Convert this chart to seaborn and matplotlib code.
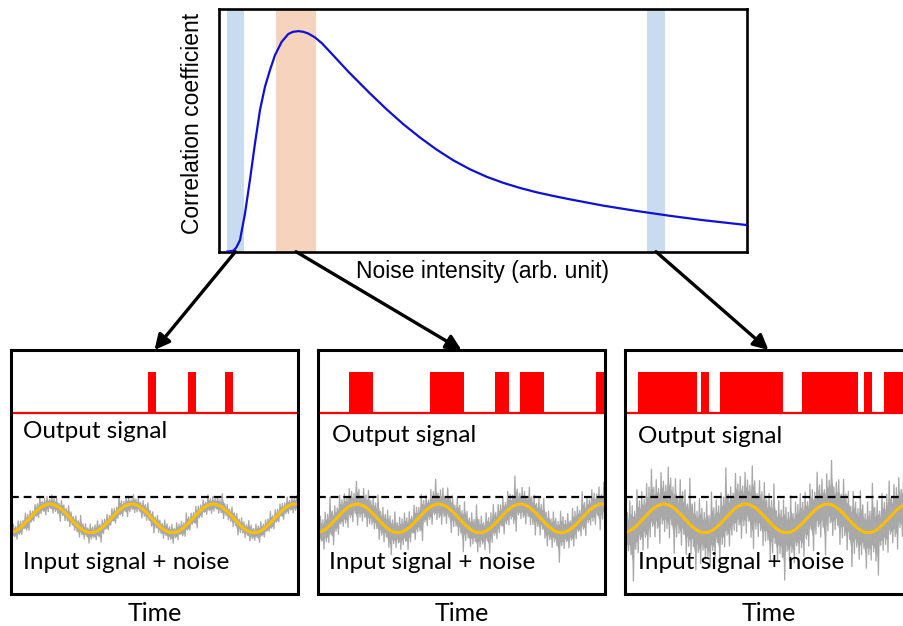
import numpy as np
import matplotlib
matplotlib.use("Agg")
import matplotlib.pyplot as plt
import seaborn as sns
from matplotlib.patches import ConnectionPatch

# ---- Top panel: correlation coefficient vs. noise intensity (arb. units) ----
noise_intensity = [0.0145, 0.0271, 0.033, 0.0398, 0.0493, 0.0587, 0.0682, 0.0777,
                   0.0872, 0.0967, 0.1061, 0.1188, 0.1313, 0.1400, 0.1503, 0.1600,
                   0.1692, 0.1819, 0.1950, 0.2071, 0.2450, 0.2861, 0.3178, 0.3493,
                   0.3809, 0.4125, 0.4440, 0.4756, 0.5073, 0.5388, 0.5704, 0.6020,
                   0.6335, 0.6652, 0.7283, 0.7915, 0.8547, 0.9178, 1.0]
correlation = [0.0, 0.004, 0.018, 0.048, 0.158, 0.297, 0.447, 0.585,
               0.681, 0.750, 0.811, 0.866, 0.898, 0.907, 0.910, 0.907,
               0.900, 0.884, 0.860, 0.832, 0.743, 0.653, 0.587, 0.526,
               0.471, 0.421, 0.377, 0.340, 0.309, 0.284, 0.263, 0.245,
               0.230, 0.216, 0.190, 0.168, 0.148, 0.130, 0.110]

# Highlighted noise levels (low, optimal, high) as [start, end] spans
noise_bands = [(0.0146, 0.0474), (0.108, 0.184), (0.8117, 0.8446)]
band_colors = ["#c9dcef", "#f6d3bc", "#c9dcef"]

# ---- Bottom panels: time in units of the input period ----
t_end = 3.513
input_amplitude = 1.0
input_peak_time = 0.477
threshold = 1.5
output_low = 7.38
output_high = 10.25
noise_amp = [0.62, 1.3, 2.3]

# Output pulses (start, end) for low / optimal / high noise
pulses = [
    [(1.673, 1.771), (2.163, 2.261), (2.623, 2.721)],
    [(0.379, 0.673), (1.376, 1.783), (2.163, 2.334), (2.469, 2.766), (3.399, 3.513)],
    [(0.163, 0.878), (0.930, 1.032), (1.163, 1.938), (2.163, 2.856), (2.929, 3.027),
     (3.174, 3.513)],
]

# Excursions of the noise trace above / below the clean input
noise_upper = [0.62, 0.85, 0.48, 0.95, 0.70, 0.55, 1.10, 0.66, 0.80, 0.45,
               0.92, 0.73, 1.35, 0.58, 0.77, 0.90, 0.52, 1.05, 0.68, 0.84,
               0.47, 0.99, 0.74, 0.60, 1.20, 0.81, 0.56, 0.93, 0.65, 1.48,
               0.71, 0.88, 0.50, 0.97, 0.63, 0.79, 1.12, 0.57, 0.86, 0.69,
               0.94, 0.53, 1.02, 0.76, 0.61, 1.58, 0.83, 0.59, 0.91, 0.72,
               0.49, 1.08, 0.67, 0.87, 0.55, 0.96, 0.78, 1.25, 0.64, 0.82,
               0.51, 0.98, 0.70, 0.58, 1.15, 0.85, 0.62, 0.93, 0.46, 1.04,
               0.75, 0.89, 0.54, 1.40, 0.68, 0.80, 0.57, 1.00, 0.73, 0.61,
               0.95, 0.50, 1.18, 0.66, 0.84, 0.59, 0.92, 0.71, 1.52, 0.63,
               0.78, 0.52, 1.06, 0.69, 0.88, 0.56, 0.97, 0.74, 0.60, 1.22,
               0.81, 0.48, 0.94, 0.67, 1.03, 0.58, 0.86, 0.72, 1.30, 0.54,
               0.90, 0.65, 0.99, 0.77, 0.62, 1.10, 0.53, 0.83, 0.70, 0.96]
noise_lower = [0.74, 0.58, 1.02, 0.66, 0.89, 0.51, 0.97, 1.28, 0.63, 0.80,
               0.55, 0.93, 0.71, 0.60, 1.14, 0.84, 0.49, 0.96, 0.69, 0.78,
               1.45, 0.57, 0.88, 0.64, 0.99, 0.53, 0.82, 0.72, 1.07, 0.61,
               0.90, 0.47, 1.19, 0.75, 0.59, 0.95, 0.68, 1.55, 0.81, 0.56,
               0.92, 0.70, 0.52, 1.04, 0.77, 0.63, 0.98, 0.58, 1.33, 0.86,
               0.60, 0.91, 0.73, 0.50, 1.09, 0.67, 0.85, 0.62, 0.94, 1.42,
               0.57, 0.79, 0.69, 1.01, 0.54, 0.88, 0.76, 1.21, 0.61, 0.93,
               0.48, 0.83, 1.11, 0.66, 0.97, 0.59, 0.74, 1.60, 0.70, 0.87,
               0.55, 0.95, 0.64, 1.05, 0.78, 0.52, 0.90, 0.68, 1.17, 0.60,
               0.84, 0.73, 0.99, 0.56, 1.37, 0.81, 0.63, 0.92, 0.50, 1.03,
               0.71, 0.87, 0.58, 1.24, 0.66, 0.96, 0.54, 0.80, 0.75, 1.08,
               0.62, 0.91, 0.49, 1.13, 0.69, 0.85, 0.57, 0.98, 0.72, 0.64]

# Text placement inside the bottom panels (x in periods, y in signal units)
output_label_pos = [(0.147, 6.06), (0.176, 5.83), (0.163, 5.72)]
input_label_pos = [(0.147, -3.06), (0.135, -3.06), (0.163, -3.06)]

# ---------------------------------------------------------------------------
sns.set_theme(style="white")
plt.rcParams["font.family"] = ["Liberation Sans", "DejaVu Sans"]
plt.rcParams["text.color"] = "black"
plt.rcParams["axes.labelcolor"] = "black"
body_font = ["Lato", "DejaVu Sans"]

W, H = 904, 626
fig = plt.figure(figsize=(W / 100, H / 100), dpi=100)
fig.patch.set_facecolor("white")


def frame(left, top, right, bottom):
    return [left / W, 1 - bottom / H, (right - left) / W, (bottom - top) / H]


# ---- top panel ----
ax_top = fig.add_axes(frame(219, 9.3, 746.7, 251.7))
for (a, b), c in zip(noise_bands, band_colors):
    ax_top.axvspan(a, b, color=c, lw=0, zorder=0)
sns.lineplot(x=noise_intensity, y=correlation, ax=ax_top, color="#1010d4",
             lw=1.6, zorder=3)
ax_top.set_xlim(0, 1)
ax_top.set_ylim(0, 1)
ax_top.set_xticks([])
ax_top.set_yticks([])
for s in ax_top.spines.values():
    s.set_color("black")
    s.set_linewidth(1.9)
ax_top.set_xlabel("Noise intensity (arb. unit)", fontsize=16.5, labelpad=6)
ax_top.set_ylabel("Correlation coefficient", fontsize=16.5)
ax_top.yaxis.set_label_coords(-0.029, 0.53)

# ---- bottom panels ----
lefts = [11, 318, 625]
bottom_axes = []
t = np.linspace(0, t_end, 600)
n = len(noise_upper)
t_noise = np.linspace(0, t_end, 2 * n)
for i, left in enumerate(lefts):
    ax = fig.add_axes(frame(left, 350, left + 287, 594))
    bottom_axes.append(ax)

    # clean input and the noisy trace around it
    clean = input_amplitude * np.cos(2 * np.pi * (t - input_peak_time))
    base = input_amplitude * np.cos(2 * np.pi * (t_noise - input_peak_time))
    up = np.roll(noise_upper, 37 * i)
    lo = np.roll(noise_lower, 23 * i)
    excursion = np.empty(2 * n)
    excursion[0::2] = up
    excursion[1::2] = -lo
    noisy = base + noise_amp[i] * excursion
    ax.fill_between(t_noise[0::2], base[0::2] - 0.6 * noise_amp[i] * lo,
                    base[0::2] + 0.6 * noise_amp[i] * up,
                    color="#a4a4a4", lw=0, zorder=1)
    ax.plot(t_noise, noisy, color="#a9a9a9", lw=0.95, zorder=2)
    sns.lineplot(x=t, y=clean, ax=ax, color="#ffbf00", lw=2.2, zorder=4)

    # detection threshold
    ax.axhline(threshold, color="black", lw=1.6, ls=(0, (3.5, 2.2)), zorder=5)

    # output signal
    ax.axhline(output_low, color="#ff0000", lw=1.6, zorder=3)
    starts = [p[0] for p in pulses[i]]
    widths = [p[1] - p[0] for p in pulses[i]]
    ax.bar(starts, output_high - output_low, width=widths, bottom=output_low,
           align="edge", color="#ff0000", lw=0, zorder=3)

    ax.text(*output_label_pos[i], "Output signal", family=body_font,
            fontsize=17.5, va="center", ha="left", color="black")
    ax.text(*input_label_pos[i], "Input signal + noise", family=body_font,
            fontsize=17.5, va="center", ha="left", color="black", zorder=6)

    ax.set_xlim(0, t_end)
    ax.set_ylim(-5.3, 11.8)
    ax.set_xticks([])
    ax.set_yticks([])
    for s in ax.spines.values():
        s.set_color("black")
        s.set_linewidth(2.2)
        s.set_zorder(7)
    ax.set_xlabel("Time", family=body_font, fontsize=18, labelpad=6)

# ---- arrows from highlighted noise levels to the matching time traces ----
for (a, b), ax in zip(noise_bands, bottom_axes):
    con = ConnectionPatch(xyA=((a + b) / 2, 0), coordsA=ax_top.transData,
                          xyB=(0.5, 1.0), coordsB=ax.transAxes,
                          arrowstyle="-|>,head_length=0.6,head_width=0.3",
                          mutation_scale=15, lw=2.4, color="black",
                          shrinkA=0, shrinkB=0, zorder=20)
    fig.add_artist(con)

fig.savefig("out.png", dpi=100, facecolor="white")
